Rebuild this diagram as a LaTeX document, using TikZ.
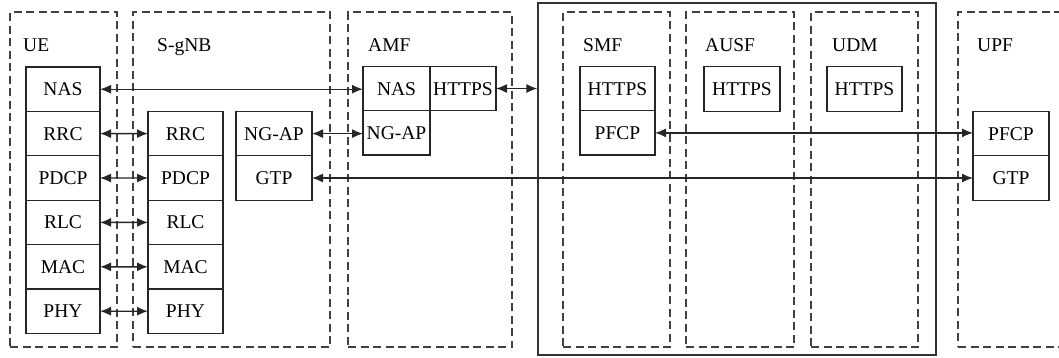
\documentclass[tikz,border=0pt]{standalone}
\usepackage{fontspec}
\setmainfont{Liberation Serif}
\usetikzlibrary{positioning,arrows.meta}

\begin{document}
\begin{tikzpicture}[
		x=1pt, y=-1pt,
		node distance=0pt,
		font=\fontsize{19.5}{23}\selectfont,
		layer/.style={draw=black!85, line width=1.3pt, outer sep=0pt, inner sep=0pt,
			minimum width=75pt, minimum height=44.4pt, text height=13pt, text depth=0pt},
		entity/.style={draw=black!75, line width=1.4pt, dash pattern=on 8pt off 4.5pt,
			minimum height=335pt, inner sep=0pt, outer sep=0pt},
		title/.style={anchor=base west, inner sep=0pt},
		link/.style={{Latex[length=11pt,width=9pt]}-{Latex[length=11pt,width=9pt]}, line width=1.4pt, black!85},
	]
		\useasboundingbox (0,0) rectangle (1059,357);
		% network functions
		\node [draw=black!80, line width=1.3pt, minimum width=398pt, minimum height=352pt, inner sep=0pt] (core) at (737,179) {};
		\node [entity, minimum width=107pt] (ue) at (63.5,179.5) {};
		\node [entity, minimum width=197pt] (gnb) at (231.5,179.5) {};
		\node [entity, minimum width=164pt] (amf) at (430,179.5) {};
		\node [entity, minimum width=107pt] (smf) at (616.5,179.5) {};
		\node [entity, minimum width=108pt] (ausf) at (740,179.5) {};
		\node [entity, minimum width=107pt] (udm) at (864.5,179.5) {};
		\node [entity, minimum width=122pt] (upf) at (1019,179.5) {};
		\node [title] (ueT) at (23,51) {UE};
		\node [title] (gnbT) at (157,51) {S-gNB};
		\node [title] (amfT) at (368,51) {AMF};
		\node [title] (smfT) at (583,51) {SMF};
		\node [title] (ausfT) at (705,51) {AUSF};
		\node [title] (udmT) at (832,51) {UDM};
		\node [title] (upfT) at (977,51) {UPF};

		% UE stack
		\node [layer, minimum width=74pt] (ueNAS) at (63,89.2) {NAS};
		\node [layer, minimum width=74pt, below=of ueNAS] (ueRRC) {RRC};
		\node [layer, minimum width=74pt, below=of ueRRC] (uePDCP) {PDCP};
		\node [layer, minimum width=74pt, below=of uePDCP] (ueRLC) {RLC};
		\node [layer, minimum width=74pt, below=of ueRLC] (ueMAC) {MAC};
		\node [layer, minimum width=74pt, below=of ueMAC] (uePHY) {PHY};

		% S-gNB stack
		\node [layer] (gnbRRC) at (185.5,133.6) {RRC};
		\node [layer, below=of gnbRRC] (gnbPDCP) {PDCP};
		\node [layer, below=of gnbPDCP] (gnbRLC) {RLC};
		\node [layer, below=of gnbRLC] (gnbMAC) {MAC};
		\node [layer, below=of gnbMAC] (gnbPHY) {PHY};
		\node [layer, minimum width=76pt] (gnbNGAP) at (274,133.6) {NG-AP};
		\node [layer, minimum width=76pt, below=of gnbNGAP] (gnbGTP) {GTP};

		% AMF
		\node [layer, minimum width=67pt] (amfNAS) at (396.5,88.5) {NAS};
		\node [layer, minimum width=66pt, right=of amfNAS] (amfHTTPS) {HTTPS};
		\node [layer, minimum width=67pt, below=of amfNAS] (amfNGAP) {NG-AP};

		% SMF, AUSF, UDM
		\node [layer] (smfHTTPS) at (617.5,88.5) {HTTPS};
		\node [layer, below=of smfHTTPS] (smfPFCP) {PFCP};
		\node [layer, minimum width=76pt] (ausfHTTPS) at (742,89) {HTTPS};
		\node [layer] (udmHTTPS) at (864.5,89) {HTTPS};

		% UPF
		\node [layer, minimum width=76pt] (upfPFCP) at (1011,133.6) {PFCP};
		\node [layer, minimum width=76pt, below=of upfPFCP] (upfGTP) {GTP};

		% interfaces
		\draw [link] (ueNAS.east) -- (ueNAS.east -| amfNAS.west);
		\foreach \l in {RRC,PDCP,RLC,MAC,PHY}
			\draw [link] (ue\l.east) -- (gnb\l.west);
		\draw [link] (gnbNGAP.east) -- (gnbNGAP.east -| amfNGAP.west);
		\draw [link] (amfHTTPS.east) -- (amfHTTPS.east -| core.west);
		\draw [link] (smfPFCP.east) -- (smfPFCP.east -| upfPFCP.west);
		\draw [link] (gnbGTP.east) -- (upfGTP.west);
	\end{tikzpicture}
\end{document}
